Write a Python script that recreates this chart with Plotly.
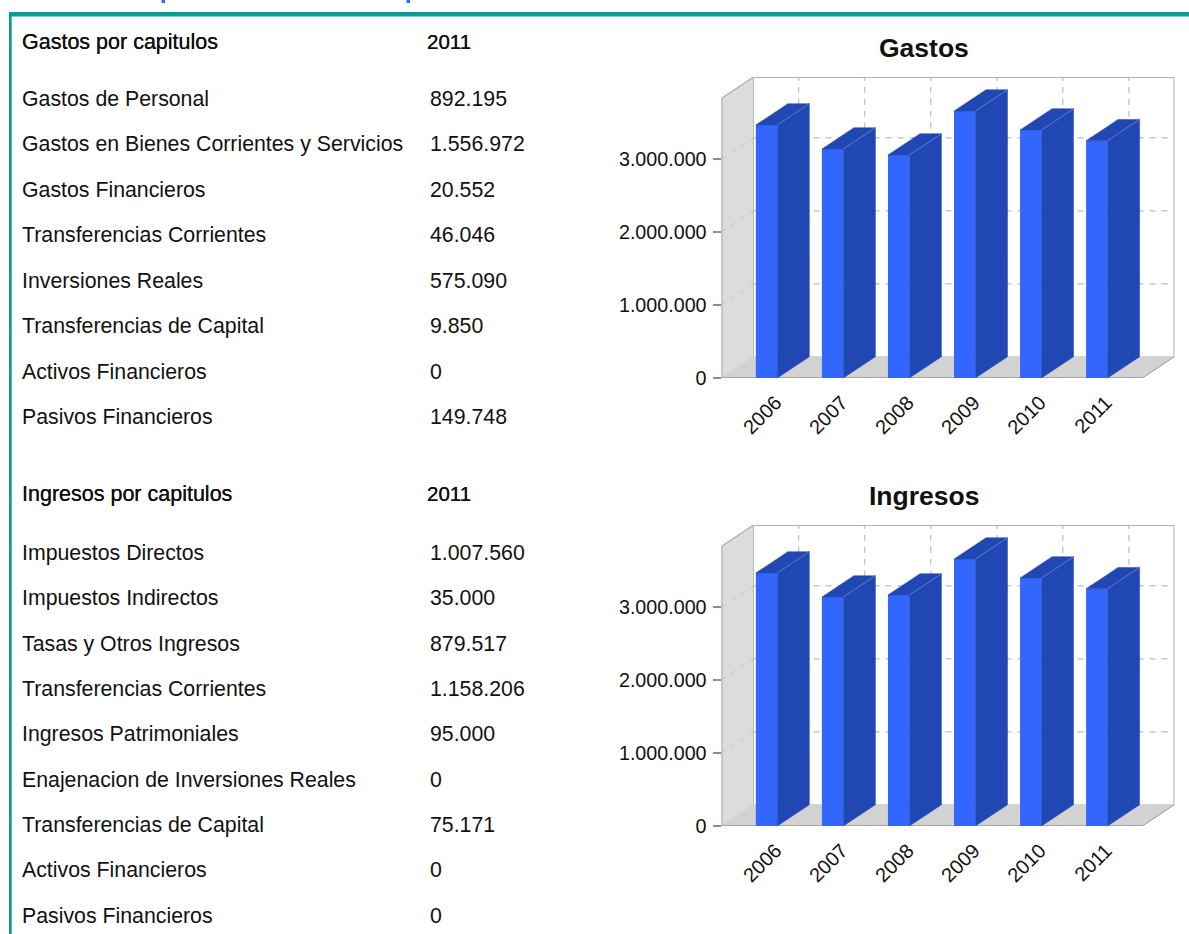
import plotly.graph_objects as go

W, H = 1189, 934

years = [2006, 2007, 2008, 2009, 2010, 2011]
gastos_totales = [3466000, 3137000, 3055000, 3657000, 3397000, 3250453]
ingresos_totales = [3466000, 3137000, 3164000, 3657000, 3397000, 3250454]
y_ticks = [0, 1000000, 2000000, 3000000]

gastos_labels = ["Gastos de Personal", "Gastos en Bienes Corrientes y Servicios", "Gastos Financieros",
                 "Transferencias Corrientes", "Inversiones Reales", "Transferencias de Capital",
                 "Activos Financieros", "Pasivos Financieros"]
gastos_valores = [892195, 1556972, 20552, 46046, 575090, 9850, 0, 149748]
ingresos_labels = ["Impuestos Directos", "Impuestos Indirectos", "Tasas y Otros Ingresos",
                   "Transferencias Corrientes", "Ingresos Patrimoniales", "Enajenacion de Inversiones Reales",
                   "Transferencias de Capital", "Activos Financieros", "Pasivos Financieros"]
ingresos_valores = [1007560, 35000, 879517, 1158206, 95000, 0, 75171, 0, 0]

gastos_rows_y = [99, 144, 190, 235, 281, 326, 372, 417]
ingresos_rows_y = [553, 598, 644, 689, 734, 780, 825, 870, 916]

FONT = "Liberation Sans"
INK = "#111111"
FRONT, DARK = "#3366ff", "#2147b3"
WALL, FLOOR, EDGE, GRID = "#dcdcdc", "#d2d2d2", "#a8a8a8", "#c8c8c8"

X0, X1, XSTEP, XC0 = 721.5, 1174.3, 66.05, 766.6
PXM = 73.0
DX = 32 / XSTEP
DY = 21.3 / PXM * 1e6
XR = [(X0 - XC0) / XSTEP, (X1 - XC0) / XSTEP]
BW = 21.5 / XSTEP


def px(py):
    return 1 - py / H


fig = go.Figure()
shapes, annos = [], []


def text(x, y, s, size=21.3, bold=False, anchor="left", color=INK, shadow=None):
    f = dict(family=FONT, size=size, color=color)
    if shadow:
        f["shadow"] = shadow
    annos.append(dict(xref="paper", yref="paper", x=x / W, y=px(y), text=f"<b>{s}</b>" if bold else s,
                      showarrow=False, xanchor=anchor, yanchor="middle", borderpad=0, borderwidth=0, font=f))


def chart(idx, values, title, floor_y):
    sfx = "" if idx == 1 else str(idx)
    xa, ya = "x" + sfx, "y" + sfx
    top_y = floor_y - 301
    ymax = 301 / PXM * 1e6
    fig.update_layout({
        "xaxis" + sfx: dict(domain=[X0 / W, X1 / W], range=XR, showgrid=False, zeroline=False, showline=False,
                            automargin=False, tickmode="array", tickvals=[i + 0.14 for i in range(len(years))],
                            ticktext=[str(v) for v in years], tickangle=-45, ticks="",
                            tickfont=dict(family=FONT, size=20, color=INK), ticklabelstandoff=8, anchor=ya),
        "yaxis" + sfx: dict(domain=[px(floor_y), px(top_y)], range=[0, ymax], showgrid=False, zeroline=False,
                            showline=False, automargin=False, tickmode="array", tickvals=y_ticks, tickformat=",d",
                            ticks="outside", ticklen=8, tickwidth=2, tickcolor="#8c8c8c", ticklabelstandoff=2,
                            tickfont=dict(family=FONT, size=19.7, color=INK), anchor=xa),
    })
    xl, xr = XR
    ref = dict(xref=xa, yref=ya, layer="below")

    def poly(pts, fill, line=None, width=1):
        path = "M" + " L".join(f"{a},{b}" for a, b in pts) + " Z"
        shapes.append(dict(type="path", path=path, fillcolor=fill, line=dict(color=line or fill, width=width), **ref))

    def seg(a, b, color=EDGE, width=1.5, dash="solid"):
        shapes.append(dict(type="line", x0=a[0], y0=a[1], x1=b[0], y1=b[1],
                           line=dict(color=color, width=width, dash=dash), **ref))

    front_top = ymax - DY
    front_right = xr - DX
    poly([(xl + DX, DY), (xr, DY), (xr, ymax), (xl + DX, ymax)], "#ffffff")
    poly([(xl, 0), (xl + DX, DY), (xl + DX, ymax), (xl, front_top)], WALL)
    poly([(xl, 0), (xl + DX, DY), (xr, DY), (front_right, 0)], FLOOR)
    # dashed grid on the back planes
    for v in y_ticks[1:]:
        seg((xl, v), (xl + DX, v + DY), GRID, 1, "6px,5px")
        seg((xl + DX, v + DY), (xr, v + DY), GRID, 1.5, "6px,6px")
    for i in range(len(years)):
        seg((i + DX, DY), (i + DX, ymax), GRID, 1.5, "6px,6px")
    # frame
    seg((xl, 0), (xl, front_top), EDGE, 2)
    seg((xl, front_top), (xl + DX, ymax), "#999999", 1)
    seg((xl + DX, ymax), (xr, ymax), "#b0b0b0", 2)
    seg((xl + DX, ymax), (xl + DX, DY), "#b8b8b8", 1)
    seg((xr, ymax), (xr, DY), "#999999", 1.5)
    seg((xl, 0), (front_right, 0), "#999999", 1.5)
    seg((front_right, 0), (xr, DY), "#999999", 1)

    xs = list(range(len(years)))
    fig.add_trace(go.Bar(x=xs, y=values, width=BW, marker=dict(color=FRONT, line=dict(width=0)),
                         xaxis=xa, yaxis=ya, showlegend=False, hoverinfo="skip"))
    px_side, py_side, px_top, py_top, px_edge, py_edge = [], [], [], [], [], []
    for i, v in zip(xs, values):
        r = i + BW / 2
        l = i - BW / 2
        px_side += [r, r + DX, r + DX, r, r, None]
        py_side += [0, DY, v + DY, v, 0, None]
        px_top += [l, l + DX, r + DX, r, l, None]
        py_top += [v, v + DY, v + DY, v, v, None]
        px_edge += [r, r + DX, None]
        py_edge += [v, v + DY, None]
    for a, b in ((px_side, py_side), (px_top, py_top)):
        fig.add_trace(go.Scatter(x=a, y=b, mode="lines", fill="toself", fillcolor=DARK,
                                 line=dict(color=DARK, width=0.5), xaxis=xa, yaxis=ya,
                                 showlegend=False, hoverinfo="skip"))
    fig.add_trace(go.Scatter(x=px_edge, y=py_edge, mode="lines", line=dict(color="#6f8bd8", width=0.7),
                             xaxis=xa, yaxis=ya, showlegend=False, hoverinfo="skip"))
    text(924, floor_y - 330, title, size=26.5, bold=True, anchor="center")


chart(1, gastos_totales, "Gastos", 378)
chart(2, ingresos_totales, "Ingresos", 826)


def fmt(v):
    return f"{v:,}".replace(",", ".")


MEDIUM = "0 0 0.6px #000"
text(22, 42, "Gastos por capitulos", size=21.5, shadow=MEDIUM)
text(427, 41.5, "2011", size=20.5, shadow=MEDIUM)
for lab, val, y in zip(gastos_labels, gastos_valores, gastos_rows_y):
    text(22, y, lab)
    text(430, y, fmt(val))
text(22, 494, "Ingresos por capitulos", size=21.5, shadow=MEDIUM)
text(427, 493.5, "2011", size=20.5, shadow=MEDIUM)
for lab, val, y in zip(ingresos_labels, ingresos_valores, ingresos_rows_y):
    text(22, y, lab)
    text(430, y, fmt(val))

# tips of the page heading's descenders, cut off by the top of the page
for x in (161.5, 406.5):
    shapes.append(dict(type="rect", xref="paper", yref="paper", x0=x / W, x1=(x + 3.5) / W, y0=px(3), y1=1,
                       fillcolor="#3366ff", line=dict(width=0)))

TEAL = "#0a9c97"
shapes.append(dict(type="rect", xref="paper", yref="paper", x0=9 / W, x1=1, y0=px(16.5), y1=px(12),
                   fillcolor=TEAL, line=dict(width=0)))
shapes.append(dict(type="rect", xref="paper", yref="paper", x0=9 / W, x1=11.7 / W, y0=0, y1=px(12),
                   fillcolor=TEAL, line=dict(width=0)))

fig.update_layout(width=W, height=H, margin=dict(l=0, r=0, t=0, b=0), autosize=False,
                  paper_bgcolor="white", plot_bgcolor="rgba(0,0,0,0)", separators=",.", showlegend=False,
                  barmode="overlay", shapes=shapes, annotations=annos)
fig.write_html("out.html", config=dict(displayModeBar=False),
               post_script="document.body.style.margin='0';document.documentElement.style.overflow='hidden';")
